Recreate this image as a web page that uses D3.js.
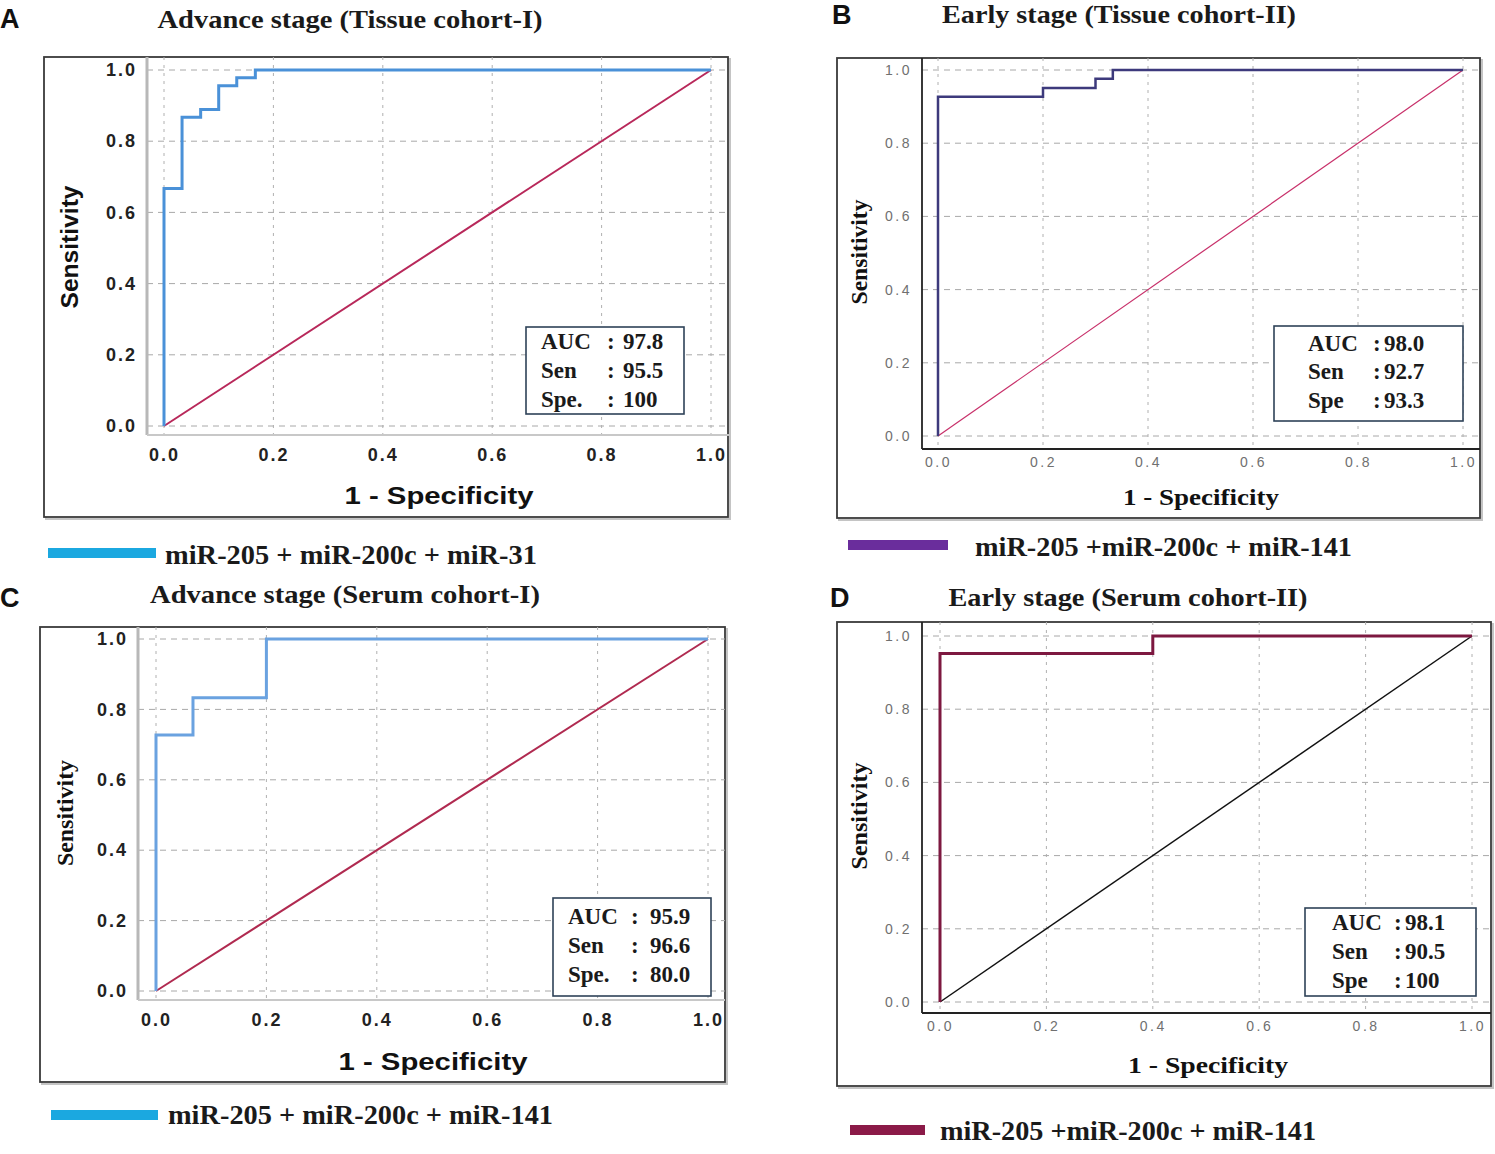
<!DOCTYPE html>
<html>
<head>
<meta charset="utf-8">
<script src="https://cdn.jsdelivr.net/npm/d3@7"></script>
<style>
  body { margin: 0; background: #fff; }
  svg { display: block; }
</style>
</head>
<body>
<svg id="fig" width="1495" height="1154"></svg>
<script>
// ROC points: [1 - specificity, sensitivity]
const rocA = [[0, 0], [0, 0.667], [0.033, 0.867], [0.067, 0.889], [0.1, 0.956], [0.133, 0.978], [0.167, 1], [1, 1]];
const rocB = [[0, 0], [0, 0.927], [0.2, 0.951], [0.3, 0.976], [0.333, 1], [1, 1]];
const rocC = [[0, 0], [0, 0.727], [0.067, 0.833], [0.2, 1], [1, 1]];
const rocD = [[0, 0], [0, 0.952], [0.4, 1], [1, 1]];
const refLine = [[0, 0], [1, 1]];
const axisTicks = [0, 0.2, 0.4, 0.6, 0.8, 1.0];

const statsA = [["AUC", "97.8"], ["Sen", "95.5"], ["Spe.", "100"]];
const statsB = [["AUC", "98.0"], ["Sen", "92.7"], ["Spe", "93.3"]];
const statsC = [["AUC", "95.9"], ["Sen", "96.6"], ["Spe.", "80.0"]];
const statsD = [["AUC", "98.1"], ["Sen", "90.5"], ["Spe", "100"]];

const panelLetters = ["A", "B", "C", "D"];
const panelTitles = [
    "Advance stage (Tissue cohort-I)",
    "Early stage (Tissue cohort-II)",
    "Advance stage (Serum cohort-I)",
    "Early stage (Serum cohort-II)"
];
const legendLabels = [
    "miR-205 + miR-200c + miR-31",
    "miR-205 +miR-200c + miR-141",
    "miR-205 + miR-200c + miR-141",
    "miR-205 +miR-200c + miR-141"
];

const SANS = "'Liberation Sans', Arial, sans-serif";
const SERIF = "'Liberation Serif', 'Times New Roman', serif";

// layout of the four panels (pixel boxes) and their look
const panels = [
    {
        roc: rocA, stats: statsA, spss: true,
        outer: [44, 57, 728, 517], plot: [147, 57, 729, 435],
        xr: [164, 711], yr: [426, 70],
        rocColor: "#4a91d8", rocWidth: 3, refColor: "#b8285a", refWidth: 2,
        letter: [0, 28], title: [350, 28, 385],
        box: [526, 327, 158, 87], rows: [22, 51, 80], cols: [15, 81, 97],
        xTitle: [439, 504, 189], yTitle: [78, 247, 123], yTitleSerif: false,
        legendBar: [48, 548, 108, 10], legendColor: "#1ba8e0", legendText: [165, 564, 372]
    },
    {
        roc: rocB, stats: statsB, spss: false,
        outer: [837, 58, 1480, 518], plot: [922, 58, 1480, 449],
        xr: [938, 1463], yr: [436, 70],
        rocColor: "#3d3a7c", rocWidth: 2.5, refColor: "#c8306a", refWidth: 1.2,
        letter: [832, 24], title: [1119, 23, 354],
        box: [1274, 326, 189, 95], rows: [25, 53, 82], cols: [34, 99, 110],
        xTitle: [1201, 505, 156], yTitle: [867, 252, 105], yTitleSerif: true,
        legendBar: [848, 540, 100, 10], legendColor: "#6a2d9c", legendText: [975, 556, 377]
    },
    {
        roc: rocC, stats: statsC, spss: true,
        outer: [40, 627, 725, 1082], plot: [138, 627, 725, 1000],
        xr: [156, 708], yr: [991, 639],
        rocColor: "#6aa2e0", rocWidth: 3, refColor: "#b02a50", refWidth: 2,
        letter: [0, 607], title: [345, 603, 390],
        box: [553, 898, 158, 98], rows: [26, 55, 84], cols: [15, 78, 97],
        xTitle: [433, 1070, 189], yTitle: [73, 813, 106], yTitleSerif: true,
        legendBar: [51, 1110, 107, 10], legendColor: "#1ba8e0", legendText: [168, 1124, 385]
    },
    {
        roc: rocD, stats: statsD, spss: false,
        outer: [837, 622, 1491, 1086], plot: [922, 622, 1491, 1013],
        xr: [940, 1472], yr: [1002, 636],
        rocColor: "#7d1840", rocWidth: 3, refColor: "#111111", refWidth: 1.5,
        letter: [830, 607], title: [1128, 606, 359],
        box: [1305, 908, 171, 88], rows: [22, 51, 80], cols: [27, 89, 100],
        xTitle: [1208, 1073, 160], yTitle: [867, 816, 107], yTitleSerif: true,
        legendBar: [850, 1125, 75, 10], legendColor: "#8b1a48", legendText: [940, 1140, 376]
    }
];

const svg = d3.select("#fig");
const fmt = d3.format(".1f");

panels.forEach((p, i) => drawPanel(p, i));

function drawPanel(p, i) {
    const g = svg.append("g");
    const x = d3.scaleLinear().domain([0, 1]).range(p.xr);
    const y = d3.scaleLinear().domain([0, 1]).range(p.yr);
    const [ox0, oy0, ox1, oy1] = p.outer;
    const [px0, py0, px1, py1] = p.plot;

    // panel frame with a soft shadow
    g.append("rect")
        .attr("x", ox0 + 2).attr("y", oy0 + 2)
        .attr("width", ox1 - ox0).attr("height", oy1 - oy0)
        .attr("fill", "none").attr("stroke", "#c4c4c4").attr("stroke-width", 2);
    g.append("rect")
        .attr("x", ox0).attr("y", oy0)
        .attr("width", ox1 - ox0).attr("height", oy1 - oy0)
        .attr("fill", "#fff").attr("stroke", "#3a3a3a").attr("stroke-width", 1.8);

    // grid
    g.selectAll(".hgrid").data(axisTicks).join("line")
        .attr("x1", px0).attr("x2", px1)
        .attr("y1", d => y(d)).attr("y2", d => y(d))
        .attr("stroke", "#a8a8a8").attr("stroke-width", 1)
        .attr("stroke-dasharray", "6,5");
    g.selectAll(".vgrid").data(axisTicks).join("line")
        .attr("x1", d => x(d)).attr("x2", d => x(d))
        .attr("y1", py0).attr("y2", py1)
        .attr("stroke", "#b0b0b0").attr("stroke-width", 1)
        .attr("stroke-dasharray", "3,5");

    // plot area border
    if (p.spss) {
        g.append("line").attr("x1", px0).attr("x2", px0).attr("y1", py0).attr("y2", py1)
            .attr("stroke", "#b8b8b8").attr("stroke-width", 3);
        g.append("line").attr("x1", px0).attr("x2", px1).attr("y1", py1).attr("y2", py1)
            .attr("stroke", "#c8c8c8").attr("stroke-width", 2);
    } else {
        g.append("line").attr("x1", px0).attr("x2", px0).attr("y1", py0).attr("y2", py1)
            .attr("stroke", "#222").attr("stroke-width", 1.8);
        g.append("line").attr("x1", px0).attr("x2", px1).attr("y1", py1).attr("y2", py1)
            .attr("stroke", "#222").attr("stroke-width", 1.8);
    }

    // tick labels
    const tickFont = p.spss
        ? { family: SANS, size: "18px", weight: "bold", fill: "#222", spacing: "2px" }
        : { family: SANS, size: "14px", weight: "normal", fill: "#707070", spacing: "2.5px" };

    const yAxis = g.append("g")
        .attr("transform", `translate(${px0},0)`)
        .call(d3.axisLeft(y).tickValues(axisTicks).tickFormat(fmt).tickSize(0).tickPadding(10));
    const xAxis = g.append("g")
        .attr("transform", `translate(0,${py1})`)
        .call(d3.axisBottom(x).tickValues(axisTicks).tickFormat(fmt).tickSize(0).tickPadding(p.spss ? 13 : 8));
    [yAxis, xAxis].forEach(a => {
        a.select(".domain").remove();
        a.selectAll("text")
            .style("font-family", tickFont.family)
            .style("font-size", tickFont.size)
            .style("font-weight", tickFont.weight)
            .style("letter-spacing", tickFont.spacing)
            .attr("fill", tickFont.fill);
    });

    // reference diagonal and ROC curve
    const line = d3.line().x(d => x(d[0])).y(d => y(d[1]));
    g.append("path")
        .datum(refLine)
        .attr("fill", "none")
        .attr("stroke", p.refColor)
        .attr("stroke-width", p.refWidth)
        .attr("d", line);
    g.append("path")
        .datum(p.roc)
        .attr("fill", "none")
        .attr("stroke", p.rocColor)
        .attr("stroke-width", p.rocWidth)
        .attr("d", line.curve(d3.curveStepAfter));

    // AUC / Sen / Spe box
    const [bx, by, bw, bh] = p.box;
    const box = g.append("g").attr("transform", `translate(${bx},${by})`);
    box.append("rect")
        .attr("width", bw).attr("height", bh)
        .attr("fill", "#fff").attr("stroke", "#2e4258").attr("stroke-width", 1.6);
    p.stats.forEach((row, r) => {
        const parts = [row[0], ":", row[1]];
        parts.forEach((txt, c) => {
            box.append("text")
                .attr("x", p.cols[c]).attr("y", p.rows[r])
                .style("font-family", SERIF)
                .style("font-size", "23px")
                .style("font-weight", "bold")
                .attr("fill", "#1a1a1a")
                .text(txt);
        });
    });

    // axis titles
    g.append("text")
        .attr("x", p.xTitle[0]).attr("y", p.xTitle[1])
        .attr("text-anchor", "middle")
        .attr("textLength", p.xTitle[2])
        .attr("lengthAdjust", "spacingAndGlyphs")
        .style("font-family", p.spss ? SANS : SERIF)
        .style("font-size", p.spss ? "24px" : "23px")
        .style("font-weight", "bold")
        .attr("fill", "#111")
        .text("1 - Specificity");
    g.append("text")
        .attr("transform", `translate(${p.yTitle[0]},${p.yTitle[1]}) rotate(-90)`)
        .attr("text-anchor", "middle")
        .attr("textLength", p.yTitle[2])
        .attr("lengthAdjust", "spacingAndGlyphs")
        .style("font-family", p.yTitleSerif ? SERIF : SANS)
        .style("font-size", "23px")
        .style("font-weight", "bold")
        .attr("fill", "#111")
        .text("Sensitivity");

    // panel letter and title
    g.append("text")
        .attr("x", p.letter[0]).attr("y", p.letter[1])
        .style("font-family", SANS)
        .style("font-size", "27px")
        .style("font-weight", "bold")
        .attr("fill", "#111")
        .text(panelLetters[i]);
    g.append("text")
        .attr("x", p.title[0]).attr("y", p.title[1])
        .attr("text-anchor", "middle")
        .attr("textLength", p.title[2])
        .attr("lengthAdjust", "spacingAndGlyphs")
        .style("font-family", SERIF)
        .style("font-size", "26px")
        .style("font-weight", "bold")
        .attr("fill", "#1a1a1a")
        .text(panelTitles[i]);

    // legend
    const [lx, ly, lw, lh] = p.legendBar;
    g.append("rect")
        .attr("x", lx).attr("y", ly).attr("width", lw).attr("height", lh)
        .attr("fill", p.legendColor);
    g.append("text")
        .attr("x", p.legendText[0]).attr("y", p.legendText[1])
        .attr("textLength", p.legendText[2])
        .attr("lengthAdjust", "spacingAndGlyphs")
        .style("font-family", SERIF)
        .style("font-size", "27px")
        .style("font-weight", "bold")
        .attr("fill", "#1a1a1a")
        .text(legendLabels[i]);
}
</script>
</body>
</html>
